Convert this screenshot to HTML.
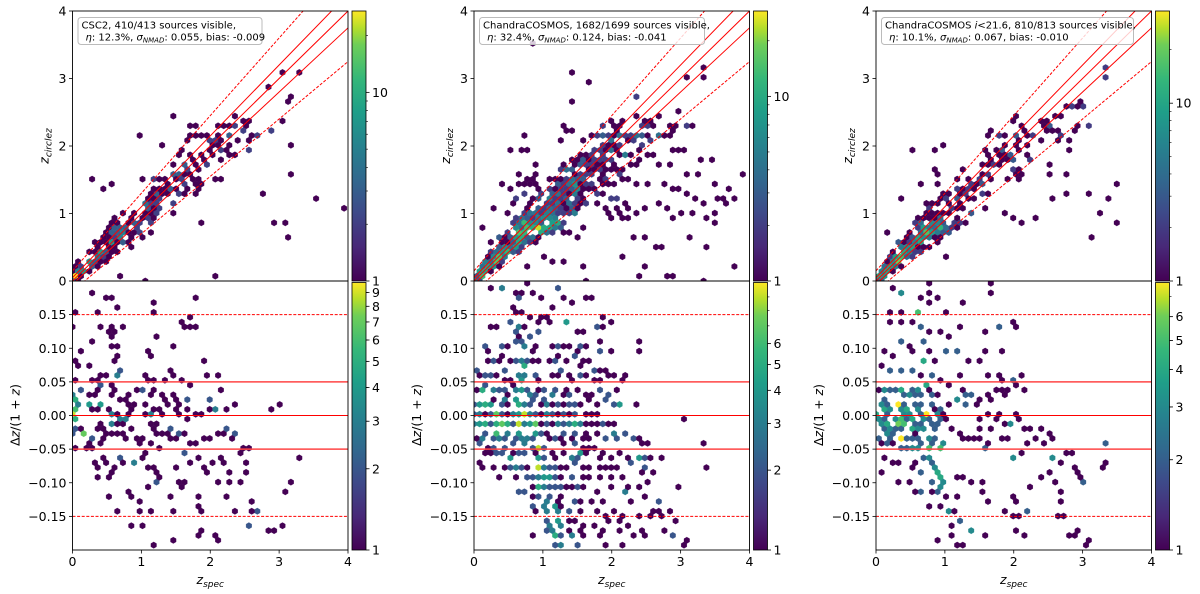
<!DOCTYPE html>
<html><head><meta charset="utf-8"><style>
html,body{margin:0;padding:0;background:#fff;}
svg{display:block;font-family:"DejaVu Sans","Liberation Sans",sans-serif;}
</style></head><body>
<svg id="fig" width="1200" height="594" viewBox="0 0 1200 594" xmlns="http://www.w3.org/2000/svg"></svg>
<script>
// ---------- DATA ----------
// core: [zspec, dz/(1+z), count] ; out: [zspec, zphot]
const panel1Core = [
[.32,.181,1],[.50,.174,1],[.60,.174,1],[.64,.161,1],[.08,.153,1],[.04,.134,1],[.39,.154,1],[.43,.134,1],[.60,.134,1],[.74,.134,1],
[.50,.123,1],[.55,.118,1],[.64,.123,1],[.27,.107,1],[.55,.100,1],[.63,.100,1],[.11,.094,1],[.62,.088,1],[.60,.080,1],[.04,.080,1],
[.09,.074,1],[.23,.074,1],[.40,.061,1],[.50,.061,1],[.62,.061,1],[.69,.061,1],[.64,.056,1],[.69,.068,2],[.04,.048,1],[.11,.042,1],
[.26,.051,1],[.35,.051,1],[.38,.046,2],[.40,.038,1],[.55,.043,1],[.62,.036,1],[.69,.028,1],[.77,.028,1],[.60,.028,1],[.79,.033,1],
[.16,.038,1],[.26,.028,1],[.35,.033,1],[.23,.019,4],[.39,.019,4],[.04,.03,3],[.04,.02,5],[.04,.01,6],[.04,0,9],[.04,-.01,5],
[.11,.018,3],[.30,.008,1],[.40,.011,1],[.50,.008,1],[.60,0,3],[.69,0,1],[.79,0,1],[.89,.008,1],[.69,-.006,3],[.79,.016,1],
[.89,.018,1],[1.03,0,1],[1.10,0,2],[1.15,0,1],[1.08,.018,1],[1.13,.028,1],[1.20,.038,1],[1.27,.028,1],[.91,.040,1],[1.05,.040,2],
[1.03,.061,1],[1.08,.053,1],[1.18,.053,1],[1.37,.053,1],[1.44,.068,1],[1.44,.061,1],[1.59,.053,1],[1.71,.046,1],[1.12,.095,1],[1.15,.088,1],
[1.47,.100,1],[1.59,.134,1],[1.69,.134,1],[1.78,.128,1],[1.17,.167,1],[1.82,.174,1],[1.89,.080,1],[1.95,.061,1],[2.10,.061,1],[2.19,.040,1],
[2.00,.021,1],[2.00,.013,1],[2.10,.011,1],[2.05,.006,2],[2.24,.013,1],[2.37,.013,1],[2.87,.006,1],[3.03,.019,1],[1.47,.033,1],[1.52,.023,1],
[1.56,.018,1],[1.66,.011,1],[1.76,-.001,1],[1.63,.021,2],[1.32,.023,1],[1.39,.016,1],[1.47,.008,1],[1.18,.013,1],[1.25,.008,1],[1.32,0,1],
[1.56,-.001,1],[1.66,-.001,1],[1.85,-.001,1],[.04,-.016,2],[.04,-.026,2],[.11,-.021,1],[.16,-.031,2],[.20,-.027,5],[.26,-.041,1],[.30,-.034,2],
[.35,-.019,1],[.40,-.011,1],[.45,-.021,1],[.50,-.031,1],[.40,-.039,1],[.45,-.034,1],[.60,-.026,1],[.64,-.026,1],[.59,-.009,3],[.67,-.014,1],
[.74,-.011,1],[.75,-.006,3],[.74,-.026,1],[.81,-.036,1],[.89,-.021,1],[.93,-.031,1],[.98,-.041,1],[.07,-.049,1],[.22,-.046,1],[.31,-.049,1],
[.31,-.071,1],[.35,-.081,1],[.40,-.091,1],[.47,-.066,1],[.52,-.071,1],[.55,-.081,1],[.60,-.074,1],[.50,-.091,1],[.71,-.061,2],[.74,-.071,1],
[.86,-.071,1],[.93,-.071,2],[1.01,-.061,1],[1.08,-.056,1],[1.04,-.036,1],[1.10,-.041,1],[1.23,-.046,1],[1.12,-.076,1],[1.18,-.074,1],[1.23,-.081,1],
[1.10,-.103,1],[1.18,-.101,1],[1.25,-.098,1],[1.30,-.093,1],[1.10,-.011,1],[1.15,-.021,1],[1.20,-.016,1],[1.25,-.026,1],[1.30,-.031,1],[1.35,-.026,1],
[1.40,-.021,2],[1.45,-.031,1],[1.49,-.036,1],[1.56,-.029,2],[1.63,-.031,1],[1.59,-.055,2],[1.71,-.046,1],[1.80,-.041,1],[1.90,-.036,1],[2.00,-.031,1],
[2.10,-.026,1],[2.19,-.027,1],[2.24,-.021,2],[2.37,-.026,2],[2.29,-.036,1],[2.05,-.069,1],[2.14,-.061,1],[2.19,-.071,1],[2.29,-.081,1],[2.51,-.046,1],
[2.57,-.046,1],[2.51,-.069,1],[2.51,-.081,1],[1.95,-.086,1],[1.93,-.081,1],[1.73,-.069,1],[1.85,-.061,1],[2.12,-.101,1],[2.24,-.098,1],[2.40,-.101,1],
[3.33,-.061,1],[3.19,-.101,1],[3.11,-.114,1],[1.52,-.079,1],[1.56,-.096,1],[1.59,-.106,1],[1.63,-.098,1],[.79,-.113,1],[.89,-.121,1],[.98,-.128,1],
[1.01,-.141,1],[.50,-.121,1],[.64,-.141,1],[1.44,-.121,1],[1.47,-.141,1],[1.17,-.141,1],[1.80,-.133,1],[1.83,-.141,1],[2.33,-.141,1],[2.26,-.121,1],
[2.63,-.128,1],[2.65,-.141,1],[2.58,-.141,1],[2.71,-.141,1],[2.53,-.161,1],[2.55,-.168,1],[2.86,-.168,1],[3.06,-.161,1],[.85,-.168,1],[1.01,-.168,1],
[1.81,-.176,1],[1.85,-.168,1],[1.44,-.188,1],[1.17,-.195,1],[2.07,-.180,1],[2.12,-.188,1],[2.91,-.17,1],[1.25,.116,1],[1.17,.157,1],[1.73,.146,1],
[1.55,.137,1],[2.01,.02,1],[2.46,-.058,1],[1.85,-.12,1]
];
const panel1Out = [
[.31,1.51],[.47,1.37],[.59,1.44],[.97,2.12],[.66,.08],[1.08,.01],[1.32,2.04],[1.47,2.46],[1.71,2.32],[1.86,.83],
[2.05,.08],[2.75,1.31],[2.91,.90],[3.10,.83],[3.14,.62],[3.19,1.98],[3.21,1.58],[3.56,1.23],[3.95,1.10],[1.03,1.51]
];
const panel2Core = [
[.22,.19,1],[.39,.19,3],[.60,.18,1],[.72,.18,1],[.81,.198,1],[.94,.176,1],[1.26,.19,2],[1.33,.176,1],[1.40,.17,1],[1.62,.176,1],[1.71,.176,1],
[.60,.16,1],[.65,.155,1],[.70,.15,1],[.80,.15,1],[.97,.15,1],[1.06,.15,1],[1.15,.16,1],
[.24,.135,1],[.29,.13,1],[.51,.14,2],[.68,.13,3],[.77,.13,1],[.92,.14,1],[.97,.125,2],[1.11,.135,1],[1.35,.14,4],[1.81,.13,2],[1.88,.135,1],[2.00,.138,1],
[1.50,.124,1],[1.55,.124,1],[.62,.124,2],[.80,.12,2],[.68,.115,1],
[.14,.10,1],[.19,.10,1],[.24,.095,1],[.39,.10,2],[.48,.105,1],[.63,.11,2],[.68,.11,2],[.72,.10,2],[.77,.105,1],[.85,.095,1],[.92,.10,1],[1.11,.10,1],[1.21,.105,2],[1.30,.10,1],[1.40,.10,1],[1.50,.10,1],[1.57,.10,2],[1.62,.10,1],[1.86,.11,1],[2.39,.097,1],[1.86,.095,2],
[.19,.085,1],[.31,.08,2],[.36,.08,1],[.41,.085,1],[.53,.078,1],[.65,.08,2],[.70,.08,3],[.72,.075,5],[.77,.085,2],[.85,.085,1],[.92,.085,1],[1.06,.08,1],[1.14,.08,2],[1.21,.085,1],[1.33,.085,1],[1.45,.085,2],[1.52,.075,1],[1.59,.085,1],[1.67,.08,1],[1.74,.065,1],[1.84,.07,1],[1.93,.07,1],[1.98,.06,1],
[.05,.065,2],[.12,.06,1],[.19,.062,2],[.27,.06,2],[.34,.06,1],[.41,.065,2],[.48,.055,1],[.56,.05,1],[.63,.06,3],[.70,.055,4],[.77,.06,3],[.87,.06,2],[.97,.055,1],[1.11,.06,1],[1.21,.06,1],[1.30,.065,2],[1.37,.06,1],[1.45,.055,1],[1.55,.06,2],[1.64,.06,1],[1.74,.05,1],[1.84,.055,1],[2.03,.055,1],[2.17,.06,1],
[.03,.04,1],[.10,.035,2],[.15,.04,3],[.20,.045,2],[.27,.04,3],[.34,.035,2],[.41,.04,2],[.48,.03,1],[.55,.045,1],[.63,.04,3],[.68,.035,4],[.75,.04,2],[.82,.03,3],[.90,.035,2],[.97,.04,1],[1.05,.04,2],[1.13,.035,3],[1.21,.04,2],[1.28,.03,1],[1.35,.035,1],[1.42,.03,2],[1.52,.035,1],[1.62,.035,1],[1.74,.03,1],[1.84,.035,2],[1.98,.03,2],[2.08,.035,1],[2.12,.02,4],
[.03,.015,2],[.08,.02,4],[.13,.015,3],[.18,.02,2],[.24,.015,4],[.30,.02,1],[.37,.015,2],[.44,.02,3],[.52,.015,1],[.60,.02,4],[.66,.015,5],[.72,.02,3],[.79,.015,2],[.86,.02,2],[.94,.015,1],[1.00,.02,2],[1.08,.015,3],[1.15,.02,1],[1.22,.015,2],[1.30,.02,1],[1.38,.015,2],[1.45,.02,2],[1.55,.015,1],[1.65,.02,1],[1.76,.015,1],[1.90,.02,1],[2.02,.02,2],[2.37,.02,1],
[.02,.005,2],[.10,0,3],[.15,.005,1],[.21,0,2],[.30,.005,3],[.36,0,4],[.42,.005,2],[.50,0,1],[.58,.005,3],[.65,0,4],[.71,.005,3],[.77,0,6],[.83,.005,3],[.90,0,2],[.96,.005,1],[1.04,0,3],[1.12,.005,2],[1.20,0,1],[1.30,0,2],[1.40,.005,1],[1.48,0,2],[1.60,.005,1],[1.70,0,1],[1.80,.005,1],[3.07,-.008,1],
[.03,-.01,3],[.09,-.015,4],[.14,-.01,2],[.20,-.015,3],[.26,-.01,2],[.33,-.015,5],[.38,-.01,4],[.44,-.012,3],[.49,-.015,5],[.55,-.01,2],[.62,-.015,4],[.68,-.01,5],[.74,-.015,3],[.80,-.01,4],[.86,-.015,5],[.92,-.01,2],[.98,-.015,1],[1.05,-.01,2],[1.12,-.015,1],[1.20,-.012,3],[1.27,-.015,2],[1.35,-.01,2],[1.42,-.015,1],[1.50,-.015,5],[1.58,-.012,2],[1.66,-.01,1],[1.74,-.015,1],[1.82,-.012,1],[1.90,-.015,2],[1.98,-.01,1],[2.06,-.015,1],
[.05,-.03,1],[.12,-.035,3],[.18,-.03,2],[.25,-.035,2],[.30,-.025,6],[.37,-.03,3],[.43,-.035,2],[.50,-.03,3],[.57,-.035,2],[.64,-.03,4],[.70,-.035,3],[.77,-.03,3],[.83,-.035,2],[.90,-.03,4],[.96,-.025,2],[1.03,-.03,1],[1.10,-.035,1],[1.17,-.03,2],[1.25,-.035,1],[1.32,-.03,2],[1.40,-.035,1],[1.48,-.03,2],[1.55,-.035,1],[1.62,-.03,1],[1.70,-.035,1],[1.80,-.03,1],[1.92,-.03,2],[2.02,-.03,2],[2.10,-.035,2],[2.22,-.03,2],[2.30,-.035,2],[2.43,-.035,1],[2.50,-.04,1],
[.10,-.045,2],[.20,-.045,1],[.30,-.045,2],[.45,-.045,2],[.58,-.045,2],[.72,-.045,3],[.92,-.048,9],[.85,-.045,2],[1.00,-.045,2],[1.30,-.045,1],[1.45,-.045,2],[1.60,-.045,1],[1.75,-.045,1],[3.34,-.04,1],
[.16,-.055,1],[.24,-.06,1],[.32,-.055,2],[.41,-.06,2],[.50,-.06,4],[.58,-.055,1],[.66,-.06,2],[.75,-.055,2],[.87,-.055,1],[.94,-.06,4],[1.02,-.06,2],[1.10,-.055,1],[1.20,-.06,1],[1.33,-.055,1],[1.45,-.06,3],[1.52,-.055,4],[1.62,-.06,1],[1.80,-.06,1],[1.90,-.055,1],[2.00,-.06,1],[2.10,-.055,1],[2.25,-.06,1],[2.38,-.06,2],[2.50,-.06,2],[2.58,-.06,1],[2.70,-.06,1],
[.10,-.068,1],[.10,-.08,1],[.30,-.075,1],[.45,-.075,1],[.55,-.08,2],[.62,-.08,3],[.70,-.075,2],[.79,-.08,1],[.92,-.075,4],[.95,-.08,5],[1.00,-.075,3],[1.07,-.08,2],[1.15,-.075,2],[1.25,-.08,1],[1.35,-.075,1],[1.45,-.07,2],[1.50,-.065,2],[1.60,-.075,1],[1.68,-.08,1],[1.90,-.08,1],[2.00,-.075,1],[2.10,-.08,1],[2.30,-.07,2],[2.36,-.065,1],[2.46,-.08,2],[3.34,-.08,1],
[.34,-.093,1],[.60,-.09,1],[.75,-.09,2],[.85,-.09,2],[.95,-.09,3],[1.02,-.095,4],[1.10,-.09,3],[1.18,-.095,2],[1.25,-.09,1],[1.40,-.095,2],[1.55,-.09,1],[1.70,-.09,1],[1.85,-.095,1],[2.03,-.09,1],[2.16,-.095,1],[2.50,-.1,1],
[.65,-.11,2],[.72,-.113,2],[.85,-.11,1],[.95,-.105,5],[1.02,-.11,3],[1.10,-.105,2],[1.18,-.11,2],[1.25,-.105,1],[1.42,-.105,1],[1.50,-.11,2],[1.60,-.105,1],[1.80,-.11,1],[2.00,-.105,1],[2.20,-.113,3],[2.40,-.11,1],[2.95,-.106,1],
[.85,-.125,1],[.97,-.12,2],[1.04,-.125,3],[1.12,-.12,2],[1.20,-.125,1],[1.30,-.12,1],[1.45,-.125,2],[1.55,-.125,1],[1.70,-.125,1],[1.90,-.125,1],[2.25,-.125,1],[2.45,-.12,1],[2.65,-.13,2],
[.82,-.135,2],[.90,-.14,1],[.99,-.135,3],[1.07,-.14,3],[1.15,-.135,4],[1.22,-.14,3],[1.30,-.135,1],[1.40,-.14,2],[1.52,-.14,1],[1.75,-.14,1],[2.05,-.14,1],[2.15,-.145,1],[2.40,-.145,1],[2.56,-.145,1],[2.72,-.145,1],
[1.02,-.155,2],[1.10,-.16,3],[1.18,-.155,4],[1.25,-.16,3],[1.35,-.155,1],[1.45,-.16,1],[1.60,-.165,1],[1.75,-.16,1],[1.95,-.16,1],[2.10,-.16,1],[2.25,-.165,1],
[.88,-.18,1],[1.05,-.175,2],[1.12,-.17,3],[1.20,-.175,4],[1.28,-.18,2],[1.38,-.175,1],[1.45,-.18,3],[1.52,-.17,1],[1.62,-.18,1],[1.82,-.18,1],[1.90,-.17,1],[2.10,-.175,1],[2.32,-.175,1],[2.50,-.18,1],[2.85,-.18,1],[2.92,-.18,1],[3.07,-.19,1],
[1.15,-.195,2],[1.22,-.195,3],[1.50,-.195,2],[1.88,-.195,1],[2.15,-.19,1]
];
const panel2Out = [
[.88,3.50],[1.42,3.10],[1.63,2.96],[1.42,2.70],[2.38,2.75],[1.27,2.30],[1.34,2.24],[1.44,2.24],[.72,2.15],[.53,1.96],[.67,1.91],[.78,1.91],
[.91,1.76],[1.27,2.05],[.87,1.51],[.91,1.43],[.96,1.36],[1.06,1.51],[.91,1.61],[.65,1.48],[.38,1.41],[.26,1.08],[.53,1.16],[.46,.99],
[.63,.91],[.63,.91],[.12,.81],[.24,.61],[.99,.36],[1.15,.26],[1.27,.26],[1.61,.21],[1.61,.01],[.78,.21],
[1.88,2.30],[2.02,2.30],[2.14,2.30],[2.45,2.30],[2.60,2.30],[2.84,2.30],[2.93,2.30],[3.05,2.30],[3.20,2.30],
[2.36,2.15],[2.45,2.15],[2.60,2.10],[2.69,2.15],[2.79,2.15],[2.88,1.93],[2.98,1.91],[3.08,1.93],[3.32,1.81],[3.46,1.81],
[1.78,1.96],[1.92,2.00],[2.02,1.93],[2.21,1.86],[2.40,1.81],[2.60,1.86],[2.69,1.76],[2.88,1.71],[3.10,1.61],[3.22,1.58],[3.49,1.48],
[1.54,1.51],[1.68,1.56],[1.83,1.61],[1.95,1.51],[2.07,1.43],[2.21,1.48],[2.36,1.48],[2.55,1.46],[2.74,1.41],[2.88,1.33],[2.98,1.38],[3.08,1.31],[3.22,1.26],[3.37,1.16],[3.51,1.21],[3.61,1.26],[3.70,1.33],[3.94,1.59],
[1.78,1.11],[1.92,1.01],[2.02,.96],[2.12,.91],[2.21,1.11],[2.36,1.01],[2.50,1.06],[2.69,1.11],[2.84,1.06],[2.88,.91],[2.98,1.01],[3.17,.96],[3.37,.91],[3.51,1.01],[3.65,1.11],[3.75,1.21],
[1.97,1.21],[2.07,1.21],[2.16,1.16],[1.92,1.11],[2.04,1.09],[2.12,1.01],[2.21,.93],[1.97,1.21],[2.07,1.21],
[2.31,.61],[2.50,.66],[2.64,.49],[2.76,.49],[3.12,.61],[3.34,.51],[3.53,.89],
[2.12,.36],[2.38,.09],[2.83,.07],[2.91,.07],[3.34,.01],[3.75,.21],[2.45,.21],
[1.11,.91],[1.20,.81],[1.30,.76],[1.39,.71],[1.49,.61],[1.59,.76],[1.25,1.01],[1.35,1.11],
[.67,1.61],[.75,1.53],[.84,1.43],[.75,1.41],[.63,1.21],[.72,1.31],[.87,1.21],[.53,1.33],[.63,1.21],[.72,1.31]
];
const panel3Core = [
[.21,.19,1],[.34,.183,3],[.62,.177,1],[.74,.183,1],[.92,.177,1],[.81,.196,1],[1.65,.183,1],[1.27,.169,1],
[.18,.155,1],[.40,.155,1],[.57,.155,2],[.60,.15,2],[.64,.155,1],[1.01,.15,1],[.21,.14,1],[.35,.14,1],[.50,.14,1],[.62,.134,1],[.69,.13,1],[.75,.127,1],[.93,.122,1],[1.03,.115,1],[1.20,.13,1],[1.61,.122,1],[1.76,.134,2],[2.00,.134,1],
[.16,.097,1],[.26,.092,1],[.38,.109,2],[.45,.104,1],[.52,.095,1],[.69,.107,2],[.77,.095,1],[.67,.08,4],[.84,.082,1],[1.01,.095,2],[1.15,.095,2],[1.32,.082,1],[1.61,.095,1],[1.85,.095,1],[1.54,.082,1],
[.11,.072,1],[.23,.07,2],[.38,.067,2],[.55,.07,2],[.67,.06,1],[.72,.048,4],[.79,.057,2],[.93,.048,1],[1.08,.048,1],[1.25,.058,1],[1.66,.06,1],[1.76,.06,1],[1.80,.052,1],[2.00,.055,2],[2.12,.062,1],[1.85,.038,1],
[.03,.035,1],[.10,.025,2],[.15,.035,3],[.20,.04,2],[.27,.035,2],[.33,.04,4],[.40,.035,2],[.45,.03,3],[.50,.04,2],[.57,.035,2],[.62,.04,3],[.68,.03,2],[.75,.035,1],[.82,.035,2],[.88,.03,1],
[.05,.015,3],[.10,.01,4],[.16,.015,2],[.22,.01,3],[.32,.018,8],[.36,.01,3],[.42,.015,2],[.48,.01,4],[.55,.015,2],[.60,.01,3],[.66,.015,2],[.73,.006,8],[.80,.015,2],[.86,.01,1],[.93,.005,2],
[.03,0,4],[.08,-.005,3],[.14,-.005,2],[.19,0,2],[.26,-.005,3],[.33,-.005,5],[.38,0,3],[.44,-.005,2],[.50,0,3],[.56,-.005,4],[.62,0,2],[.68,-.005,3],[.74,0,3],[.80,-.005,2],[.86,0,3],[.93,-.005,2],[1.00,0,1],
[.05,-.015,3],[.10,-.02,2],[.15,-.015,4],[.20,-.02,3],[.26,-.018,2],[.33,-.015,6],[.38,-.02,2],[.44,-.015,5],[.50,-.02,4],[.55,-.015,2],[.61,-.02,3],[.66,-.015,2],[.72,-.02,3],[.78,-.015,2],[.86,-.02,2],[.92,-.015,2],
[.08,-.035,2],[.14,-.03,3],[.20,-.035,2],[.26,-.03,2],[.33,-.033,8],[.38,-.035,3],[.44,-.03,2],[.50,-.035,2],[.56,-.03,1],[.62,-.035,2],[.68,-.04,2],[.75,-.035,3],[.82,-.04,2],[.88,-.035,2],[.95,-.04,2],
[.05,-.04,1],[.15,-.045,2],[.25,-.045,1],[.35,-.048,2],[.45,-.045,2],[.55,-.05,3],[.65,-.05,3],[.78,-.048,5],[.90,-.05,5],[.96,-.045,1],
[1.08,.013,1],[1.15,.023,3],[1.23,.038,1],[1.32,.028,2],[1.30,.015,2],[1.37,.028,2],[1.47,.013,1],[1.52,.023,1],[1.52,-.002,1],[1.61,.003,1],[1.64,-.017,1],[1.71,-.007,1],[1.80,.005,1],[1.88,-.012,1],[1.93,-.012,3],[2.00,0,1],[2.10,-.007,1],[2.19,-.017,1],[2.27,-.022,1],[2.39,-.017,1],[2.49,-.027,1],[2.58,-.032,1],[1.61,.033,1],[1.68,.023,1],[1.76,.038,1],[1.90,.038,1],[2.05,.043,1],[2.12,.038,1],[1.85,.028,1],
[1.03,-.007,1],[1.13,-.017,1],[1.18,-.027,1],[1.23,-.037,1],[1.32,-.032,1],[1.42,-.032,1],[1.47,-.017,1],[1.52,-.037,1],[1.56,-.047,2],[1.66,-.042,1],[1.80,-.032,1],[1.90,-.037,1],[2.00,-.067,3],[2.10,-.057,1],[2.19,-.042,1],[2.29,-.037,1],[2.44,-.042,1],[2.53,-.062,3],[2.68,-.072,1],[2.82,-.057,1],[2.87,-.077,1],[2.97,-.099,1],[3.33,-.037,1],[3.35,-.072,1],
[.69,-.062,2],[.77,-.067,3],[.81,-.07,2],[.86,-.077,3],[.93,-.084,4],[.93,-.091,4],[.98,-.096,3],[.96,-.106,3],[.93,-.116,2],[.84,-.116,1],[.64,-.086,1],[.64,-.114,2],[.79,-.101,2],[.35,-.096,1],[.50,-.099,1],[.60,-.114,1],[.77,-.136,1],[.93,-.136,1],[1.03,-.141,2],[1.03,-.121,1],[1.15,-.119,1],[1.18,-.094,1],[1.30,-.091,1],[1.42,-.099,1],[1.56,-.111,1],[1.61,-.126,1],[1.56,-.101,1],
[.08,-.081,1],[.16,-.062,1],[.21,-.072,1],[.31,-.072,1],[.50,-.077,1],[.57,-.072,1],[.67,-.082,1],
[1.08,-.141,1],[1.15,-.141,1],[1.20,-.154,2],[1.10,-.166,1],[1.08,-.176,1],[1.42,-.169,2],[1.59,-.182,1],[1.18,-.196,1],[1.28,-.196,1],[.89,-.182,1],[2.02,-.121,1],[2.02,-.131,1],[1.90,-.141,1],[2.00,-.149,1],[2.10,-.149,1],[2.23,-.141,2],[2.05,-.168,1],[2.15,-.176,1],[2.58,-.101,1],[2.66,-.114,1],[2.66,-.129,1],[2.63,-.149,1],[2.70,-.149,1],[2.79,-.182,1],[2.89,-.182,1],[3.08,-.189,1],[2.97,-.101,1],[2.96,-.087,1],[2.39,-.096,1],[2.49,-.087,1],[2.23,-.109,1]
];
const panel3Out = [
[.15,.74],[.34,1.19],[.64,1.46],[.50,1.92],[.84,1.92],[.98,2.05],[.83,1.66],[.88,1.58],[.91,1.41],[.72,1.18],[.76,1.05],[.98,.34],[1.42,1.01],
[1.87,1.01],[1.99,.94],[2.12,.87],[2.31,.94],[2.53,1.21],[2.76,1.59],[2.77,1.32],[2.79,1.92],[3.06,1.32],[3.13,.67],[3.25,1.0],[3.35,1.19],
[3.48,.87],[3.51,1.46],[1.67,2.19],[2.03,2.45],[2.94,2.26],[3.06,2.28],[2.79,2.58],[2.94,2.58],[3.32,2.99],[3.35,3.17],[2.53,1.73],[2.55,1.61]
];
const xTicks = [0,1,2,3,4];
const topYTicks = [0,1,2,3,4];
const botYTicks = [0.15,0.10,0.05,0.00,-0.05,-0.10,-0.15];
const botYTickLabels = ["0.15","0.10","0.05","0.00","\u22120.05","\u22120.10","\u22120.15"];
const legendLine1 = ["CSC2, 410/413 sources visible,","ChandraCOSMOS, 1682/1699 sources visible,","ChandraCOSMOS i<21.6, 810/813 sources visible,"];
const legendEta = ["12.3%","32.4%","10.1%"];
const legendSigma = ["0.055","0.124","0.067"];
const legendBias = ["-0.009","-0.041","-0.010"];
const topVmax = [27,29,33];
const botVmax = [9.8,10.2,7.8];
const botCbarLabels = [[1,2,3,4,5,6,7,8,9],[1,2,3,4,5,6],[1,2,3,4,5,6]];

// ---------- RENDER ----------
const NS="http://www.w3.org/2000/svg";
const svg=document.getElementById('fig');
function mk(tag,attrs,parent){const e=document.createElementNS(NS,tag);for(const k in attrs)e.setAttribute(k,attrs[k]);(parent||svg).appendChild(e);return e;}
const VIR=[[0,68,1,84],[.125,72,40,120],[.25,62,73,137],[.375,49,104,142],[.5,38,130,142],[.625,31,158,137],[.75,53,183,121],[.875,110,206,88],[.9375,181,222,43],[1,253,231,37]];
function cmap(t){t=Math.max(0,Math.min(1,t));for(let i=1;i<VIR.length;i++){if(t<=VIR[i][0]){const a=VIR[i-1],b=VIR[i];const f=(t-a[0])/(b[0]-a[0]);return `rgb(${Math.round(a[1]+f*(b[1]-a[1]))},${Math.round(a[2]+f*(b[2]-a[2]))},${Math.round(a[3]+f*(b[3]-a[3]))})`;}}return 'rgb(253,231,37)';}
const defs=mk('defs',{});
const grad=mk('linearGradient',{id:'vir',x1:0,y1:1,x2:0,y2:0},defs);
VIR.forEach(s=>mk('stop',{offset:s[0],'stop-color':`rgb(${s[1]},${s[2]},${s[3]})`},grad));

const OX=[72.5,474,876], AW=275.5;
const TOP0=281, TOP1=11, BOT0=281, BOT1=550;
const SX=5.6, SY=SX*Math.sqrt(3), R=SY/3;
const FS=12.5;

function hexbin(g,pts,W,H,vmax,name){
  const bins={};
  pts.forEach(p=>{const x=p[0],y=p[1];if(x<-3||x>W+3||y<-3||y>H+3)return;
    const i1=Math.round(x/SX),j1=Math.round(y/SY);
    const i2=Math.floor(x/SX),j2=Math.floor(y/SY);
    const cx2=(i2+.5)*SX,cy2=(j2+.5)*SY;
    const e1=(x-i1*SX)**2+(y-j1*SY)**2, e2=(x-cx2)**2+(y-cy2)**2;
    let key,hx,hy;
    if(e1<=e2){key='a'+i1+'_'+j1;hx=i1*SX;hy=j1*SY;}else{key='b'+i2+'_'+j2;hx=cx2;hy=cy2;}
    if(!bins[key])bins[key]={hx,hy,n:0};bins[key].n+=p[2];});
  Object.values(bins).forEach(b=>{
    const col=cmap(Math.log(b.n)/Math.log(vmax));
    const px=b.hx, py=H-b.hy;
    const poly=[[0,-R],[SX/2,-R/2],[SX/2,R/2],[0,R],[-SX/2,R/2],[-SX/2,-R/2]].map(v=>(px+v[0]).toFixed(2)+','+(py+v[1]).toFixed(2)).join(' ');
    const h=mk('polygon',{points:poly,fill:col,stroke:col,'stroke-width':0.3},g);
    
    
  });
}
function txt(x,y,s,attrs,parent){const t=mk('text',Object.assign({x,y,'font-size':FS,fill:'#000'},attrs||{}),parent);t.textContent=s;return t;}

for(let p=0;p<3;p++){
  const ox=OX[p];
  const core=[panel1Core,panel2Core,panel3Core][p], out=[panel1Out,panel2Out,panel3Out][p];
  const xs=z=>ox+z/4*AW;
  const ysT=z=>TOP0-(z/4)*(TOP0-TOP1);
  const ysB=d=>(BOT0+BOT1)/2-d/0.4*(BOT1-BOT0);
  const panel=mk('g',{},svg);
  
  
  const cT=mk('clipPath',{id:'ct'+p},defs);mk('rect',{x:ox,y:TOP1,width:AW,height:TOP0-TOP1},cT);
  const cB=mk('clipPath',{id:'cb'+p},defs);mk('rect',{x:ox,y:BOT0,width:AW,height:BOT1-BOT0},cB);
  const allT=[];core.forEach(c=>{const zp=c[0]+c[1]*(1+c[0]);allT.push([c[0],zp,c[2]]);});out.forEach(o=>allT.push([o[0],o[1],1]));
  const wT=mk('g',{'clip-path':`url(#ct${p})`},panel);
  const gT=mk('g',{transform:`translate(${ox},${TOP1})`},wT);
  
  
  hexbin(gT,allT.map(q=>[xs(q[0])-ox,TOP0-ysT(q[1]),q[2]]),AW,TOP0-TOP1,topVmax[p],'top-hex');
  const allB=allT.map(q=>[q[0],(q[1]-q[0])/(1+q[0]),q[2]]).filter(q=>Math.abs(q[1])<=0.2);
  const wB=mk('g',{'clip-path':`url(#cb${p})`},panel);
  const gB=mk('g',{transform:`translate(${ox},${BOT0})`},wB);
  
  
  hexbin(gB,allB.map(q=>[xs(q[0])-ox,BOT1-ysB(q[1]),q[2]]),AW,BOT1-BOT0,botVmax[p],'bottom-hex');
  const gl=mk('g',{'clip-path':`url(#ct${p})`},panel);
  [[0,0],[0.05,0],[-0.05,0],[0.15,1],[-0.15,1]].forEach(o=>{
    const l=mk('line',{x1:xs(0),y1:ysT(o[0]),x2:xs(4.5),y2:ysT(4.5+o[0]*5.5),stroke:'#f00','stroke-width':1,'stroke-dasharray':o[1]?'3,1.6':'none'},gl);
    
    
  });
  [[0,0,1],[0.05,0,1.6],[-0.05,0,1.6],[0.15,1,1],[-0.15,1,1]].forEach(o=>{
    const l=mk('line',{x1:xs(0),x2:xs(4),y1:ysB(o[0]),y2:ysB(o[0]),stroke:o[2]>1?'#f44':'#f00','stroke-width':o[2],'stroke-dasharray':o[1]?'3,1.6':'none'},panel);
    
    
  });
  const f1=mk('rect',{x:ox,y:TOP1,width:AW,height:TOP0-TOP1,fill:'none',stroke:'#000','stroke-width':0.9},panel);
  
  const f2=mk('rect',{x:ox,y:BOT0,width:AW,height:BOT1-BOT0,fill:'none',stroke:'#000','stroke-width':0.9},panel);
  
  xTicks.forEach(v=>{const x=xs(v);mk('line',{x1:x,x2:x,y1:BOT1,y2:BOT1+3.5,stroke:'#000','stroke-width':0.8},panel);
    const t=txt(x,BOT1+16,String(v),{'text-anchor':'middle'},panel);});
  topYTicks.forEach(v=>{const y=ysT(v);mk('line',{x1:ox-3.5,x2:ox,y1:y,y2:y,stroke:'#000','stroke-width':0.8},panel);
    const t=txt(ox-6,y+4.5,String(v),{'text-anchor':'end'},panel);});
  botYTicks.forEach((v,i)=>{const y=ysB(v);mk('line',{x1:ox-3.5,x2:ox,y1:y,y2:y,stroke:'#000','stroke-width':0.8},panel);
    const t=txt(ox-6,y+4.5,botYTickLabels[i],{'text-anchor':'end'},panel);});
  const xt=mk('text',{x:ox+AW/2,y:BOT1+34,'font-size':FS,'text-anchor':'middle','font-style':'italic'},panel);
  xt.innerHTML='z<tspan font-size="9" dy="3">spec</tspan>';
  
  const yt=mk('text',{x:0,y:0,'font-size':FS,'text-anchor':'middle','font-style':'italic',transform:`translate(${ox-24},146) rotate(-90)`},panel);
  yt.innerHTML='z<tspan font-size="9" dy="3">circlez</tspan>';
  
  const yb=mk('text',{x:0,y:0,'font-size':FS,'text-anchor':'middle',transform:`translate(${ox-53},415) rotate(-90)`},panel);
  yb.innerHTML='Δ<tspan font-style="italic">z</tspan>/(1 + <tspan font-style="italic">z</tspan>)';
  
  const lw=[184,225,252][p];
  const lg=mk('g',{},panel);
  mk('rect',{x:ox+5.5,y:17.5,width:lw,height:27,rx:3,fill:'#fff','fill-opacity':0.8,stroke:'#bbb','stroke-width':1},lg);
  const l1=mk('text',{x:ox+9,y:28.5,'font-size':10},lg);
  l1.innerHTML=p===2?'ChandraCOSMOS <tspan font-style="italic">i</tspan>&lt;21.6, 810/813 sources visible,':legendLine1[p];
  const l2=mk('text',{x:ox+13,y:40.5,'font-size':10},lg);
  l2.innerHTML=`<tspan font-style="italic">η</tspan>: ${legendEta[p]}, <tspan font-style="italic">σ</tspan><tspan font-size="7" dy="2" font-style="italic">NMAD</tspan><tspan dy="-2">: ${legendSigma[p]}, bias: ${legendBias[p]}</tspan>`;
  const cbx=ox+279.5, cw=14;
  [[TOP1,TOP0,topVmax[p],[1,10],[2,3,4,5,6,7,8,9,20],'top-colorbar'],[BOT0+1.5,BOT1,botVmax[p],botCbarLabels[p],[2,3,4,5,6,7,8,9],'bottom-colorbar']].forEach(cb=>{
    const [y0,y1,vmax,labels,minors,nm]=cb;
    const g=mk('g',{},panel);
    mk('rect',{x:cbx,y:y0,width:cw,height:y1-y0,fill:'url(#vir)',stroke:'#000','stroke-width':0.8},g);
    const yv=v=>y1-Math.log(v)/Math.log(vmax)*(y1-y0);
    minors.forEach(v=>{if(v>=vmax)return;const y=yv(v);mk('line',{x1:cbx+cw,x2:cbx+cw+2,y1:y,y2:y,stroke:'#000','stroke-width':0.6},g);});
    labels.forEach(v=>{if(v>vmax)return;const y=yv(v);mk('line',{x1:cbx+cw,x2:cbx+cw+3.5,y1:y,y2:y,stroke:'#000','stroke-width':0.8},g);
      const t=txt(cbx+cw+6,y+4.5,String(v),{},g);});
  });
}
</script>
</body></html>
